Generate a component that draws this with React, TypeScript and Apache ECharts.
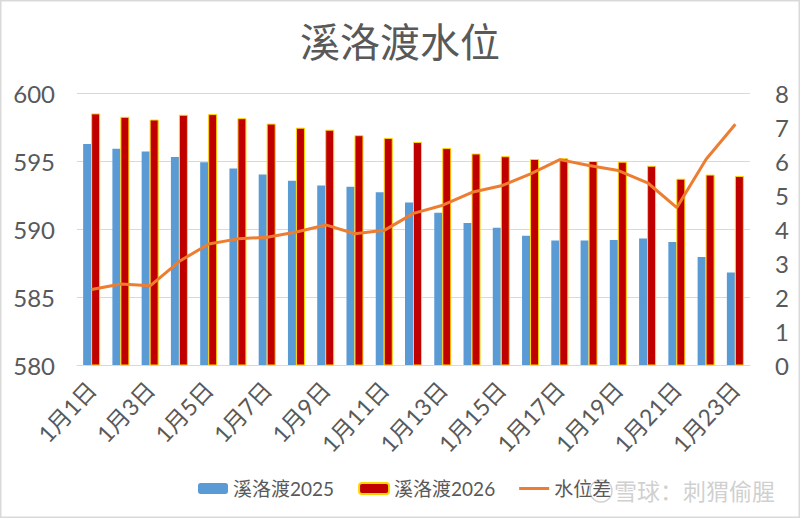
import React, { useEffect, useRef } from "react";
import * as echarts from "echarts";

const categories = [
  "1月1日", "1月2日", "1月3日", "1月4日", "1月5日", "1月6日", "1月7日", "1月8日",
  "1月9日", "1月10日", "1月11日", "1月12日", "1月13日", "1月14日", "1月15日", "1月16日",
  "1月17日", "1月18日", "1月19日", "1月20日", "1月21日", "1月22日", "1月23日",
];
const level2025 = [
  596.25, 595.9, 595.7, 595.3, 594.9, 594.45, 594.0, 593.55, 593.2, 593.1, 592.7, 591.95,
  591.2, 590.45, 590.1, 589.5, 589.15, 589.15, 589.2, 589.3, 589.05, 587.95, 586.8,
];
const level2026 = [
  598.5, 598.25, 598.05, 598.4, 598.45, 598.15, 597.75, 597.45, 597.3, 596.9, 596.7, 596.4,
  595.95, 595.55, 595.35, 595.15, 595.2, 595.0, 594.95, 594.65, 593.7, 594.0, 593.9,
];
const levelDiff = [
  2.22, 2.38, 2.33, 3.05, 3.56, 3.71, 3.76, 3.91, 4.12, 3.86, 3.96, 4.46,
  4.7, 5.08, 5.27, 5.62, 6.04, 5.87, 5.72, 5.36, 4.63, 6.05, 7.08,
];
const leftTicks = { min: 580, max: 600, interval: 5 };
const rightTicks = { min: 0, max: 8, interval: 1 };

const FONT = "Lato, 'Noto Sans CJK SC', sans-serif";
const TXT = "#595959";
const LINE_ICON = "path://M0,0 L0.01,0 L0,0.01 Z M30,11 L29.99,11 L30,10.99 Z M0,4 L30,4 L30,7 L0,7 Z";

export default function App() {
  const ref = useRef<HTMLDivElement>(null);
  useEffect(() => {
    if (!ref.current) return;
    const chart = echarts.init(ref.current, undefined, { renderer: "svg" });
    chart.setOption({
      animation: false,
      backgroundColor: "#ffffff",
      textStyle: { fontFamily: FONT },
      title: {
        text: "溪洛渡水位",
        left: "center",
        top: 15,
        textStyle: { fontSize: 40, fontWeight: "normal", color: TXT, fontFamily: "'Noto Sans CJK SC', sans-serif" },
      },
      grid: { left: 77, right: 50, top: 93, bottom: 153 },
      legend: {
        bottom: 15,
        left: 193,
        itemWidth: 30,
        itemHeight: 11,
        itemGap: 24,
        textStyle: { fontSize: 19, color: TXT, fontFamily: FONT },
        data: [
          { name: "溪洛渡2025" },
          { name: "溪洛渡2026" },
          { name: "水位差", icon: LINE_ICON },
        ],
      },
      xAxis: {
        type: "category",
        data: categories,
        axisLine: { show: true, lineStyle: { color: "#d9d9d9" } },
        axisTick: { show: false },
        axisLabel: {
          interval: 1,
          rotate: 47,
          fontSize: 23,
          color: TXT,
          margin: 20,
          fontFamily: FONT,
        },
      },
      yAxis: [
        {
          type: "value",
          min: leftTicks.min,
          max: leftTicks.max,
          interval: leftTicks.interval,
          axisLine: { show: false },
          axisTick: { show: false },
          splitLine: { lineStyle: { color: "#d9d9d9", width: 1 } },
          axisLabel: { fontSize: 24, color: TXT, margin: 22, fontFamily: FONT },
        },
        {
          type: "value",
          min: rightTicks.min,
          max: rightTicks.max,
          interval: rightTicks.interval,
          axisLine: { show: false },
          axisTick: { show: false },
          splitLine: { show: false },
          axisLabel: { fontSize: 24, color: TXT, margin: 25, fontFamily: FONT },
        },
      ],
      series: [
        {
          name: "溪洛渡2025",
          type: "bar",
          data: level2025,
          barWidth: 8,
          barGap: "0%",
          itemStyle: { color: "#5B9BD5" },
        },
        {
          name: "溪洛渡2026",
          type: "bar",
          data: level2026,
          barWidth: 9,
          itemStyle: { color: "#C00000", borderColor: "#FFD700", borderWidth: 1 },
        },
        {
          name: "水位差",
          type: "line",
          yAxisIndex: 1,
          data: levelDiff,
          symbol: "none",
          lineStyle: { color: "#ED7D31", width: 3 },
          itemStyle: { color: "#ED7D31" },
        },
      ],
      graphic: [
        {
          type: "rect",
          shape: { x: 0.75, y: 0.75, width: 798.5, height: 516.5 },
          style: { fill: "none", stroke: "#d9d9d9", lineWidth: 1.5 },
          silent: true,
        },
        {
          type: "circle",
          shape: { cx: 601, cy: 491, r: 11 },
          style: { fill: "none", stroke: "rgba(190,190,190,0.7)", lineWidth: 1.5 },
          silent: true,
        },
        {
          type: "text",
          left: 614,
          top: 478,
          style: {
            text: "雪球：刺猬偷腥",
            fontSize: 23,
            fill: "rgba(200,200,200,0.85)",
            fontFamily: "'Noto Sans CJK SC', sans-serif",
          },
          silent: true,
        },
      ],
    });
    return () => chart.dispose();
  }, []);
  return (
    <div
      ref={ref}
      style={{ position: "absolute", left: 0, top: 0, width: 800, height: 518 }}
    />
  );
}
